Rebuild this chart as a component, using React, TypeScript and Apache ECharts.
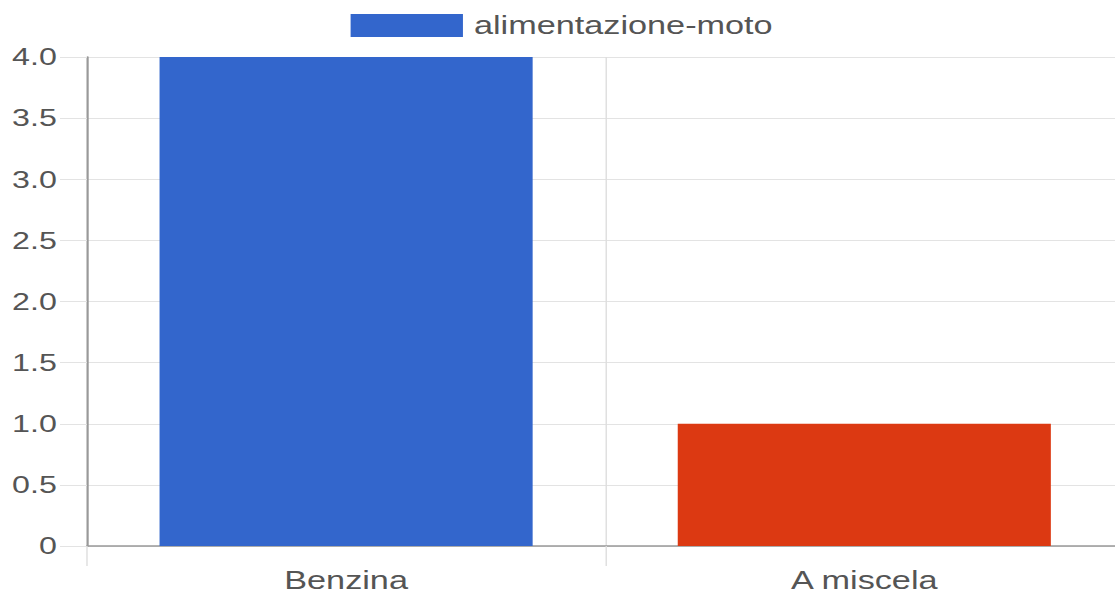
import React, { useEffect, useRef } from "react";
import * as echarts from "echarts";

const categories = ["Benzina", "A miscela"];
const values = [4, 1];
const barColors = ["#3366cc", "#dc3912"];
const seriesName = "alimentazione-moto";
const yTicks = { min: 0, max: 4, interval: 0.5 };

const STRETCH = 1.37;

export default function App() {
  const ref = useRef<HTMLDivElement>(null);
  useEffect(() => {
    if (!ref.current) return;
    const chart = echarts.init(ref.current, undefined, { renderer: "svg" });
    const font = "Liberation Sans, Arial, sans-serif";
    chart.setOption({
      animation: false,
      textStyle: { fontFamily: font },
      legend: {
        show: true,
        left: "center",
        top: 8,
        itemWidth: 82,
        itemHeight: 23,
        itemGap: 10,
        icon: "rect",
        textStyle: { fontSize: 25, color: "#555", fontFamily: font, padding: [0, 0, 0, 3] },
        data: [seriesName],
      },
      grid: { left: 63.5, right: 0, top: 57, bottom: 51, containLabel: false },
      xAxis: {
        type: "category",
        data: categories,
        axisLine: { show: true, lineStyle: { color: "#999", width: 1.5 } },
        axisTick: { show: true, length: 20, alignWithLabel: false, lineStyle: { color: "#ddd" } },
        splitLine: { show: true, lineStyle: { color: "#ddd" } },
        axisLabel: { fontSize: 25, color: "#555", margin: 22, fontFamily: font },
      },
      yAxis: {
        type: "value",
        min: yTicks.min,
        max: yTicks.max,
        interval: yTicks.interval,
        axisLine: { show: true, lineStyle: { color: "#999", width: 1.5 } },
        axisTick: { show: true, length: 19.7, lineStyle: { color: "#e3e3e3" } },
        splitLine: { show: true, lineStyle: { color: "#e3e3e3" } },
        axisLabel: {
          fontSize: 23.5,
          color: "#555",
          margin: 22,
          fontFamily: font,
          formatter: (v: number) => (v === 0 ? "0" : v.toFixed(1)),
        },
      },
      series: [
        {
          name: seriesName,
          type: "bar",
          barCategoryGap: "28%",
          itemStyle: { color: barColors[0] },
          data: values.map((v, i) => ({ value: v, itemStyle: { color: barColors[i] } })),
        },
      ],
    });
    return () => chart.dispose();
  }, []);
  return (
    <div
      style={{
        position: "absolute",
        left: 0,
        top: 0,
        width: 1115,
        height: 597,
        overflow: "hidden",
        background: "#fff",
      }}
    >
      <div
        ref={ref}
        style={{
          width: 820,
          height: 597,
          transform: `scaleX(${STRETCH})`,
          transformOrigin: "0 0",
        }}
      />
    </div>
  );
}
